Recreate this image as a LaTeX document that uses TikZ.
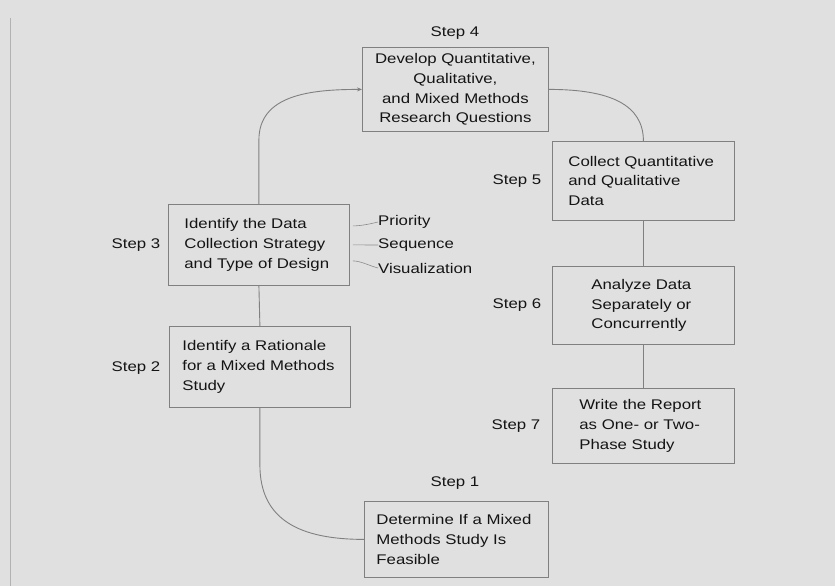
\documentclass[tikz,border=0pt]{standalone}
\usepackage{fontspec}
\setmainfont{Liberation Sans}[FakeStretch=1.2]
\usetikzlibrary{calc,arrows.meta}
\begin{document}
\begin{tikzpicture}[x=1pt,y=-1pt,
  every node/.style={font=\fontsize{14}{19.8}\selectfont, text=black!92},
  stepbox/.style={draw=black!50, line width=0.8pt, anchor=north west,
    inner ysep=0pt, align=left},
  steplabel/.style={inner sep=0pt},
  link/.style={draw=black!50, line width=0.9pt},
  twig/.style={draw=black!45, line width=0.6pt},
  facet/.style={inner sep=0pt, anchor=west}]
\useasboundingbox (0,0) rectangle (835,586);
\fill[black!12] (0,0) rectangle (835,586);
\draw[black!30, line width=0.6pt] (10,18) -- (10,586);

% boxes of the seven steps
\node[stepbox, align=center, minimum width=186pt, minimum height=84pt,
  text width=170pt, inner xsep=8pt] (b4) at (362,47)
  {Develop Quantitative,\\Qualitative,\\and Mixed Methods\\Research Questions};
\node[stepbox, minimum width=182pt, minimum height=79pt,
  text width=150pt, inner xsep=16pt] (b5) at (552,141)
  {Collect Quantitative\\and Qualitative\\Data};
\node[stepbox, minimum width=182pt, minimum height=78pt,
  text width=104pt, inner xsep=39pt] (b6) at (552,266)
  {Analyze Data\\Separately or\\Concurrently};
\node[stepbox, minimum width=182pt, minimum height=75pt,
  text width=128pt, inner xsep=27pt] (b7) at (552,388)
  {Write the Report\\as One- or Two-\\Phase Study};
\node[stepbox, minimum width=181pt, minimum height=81pt,
  text width=149pt, inner xsep=16pt] (b3) at (168,204)
  {Identify the Data\\Collection Strategy\\and Type of Design};
\node[stepbox, minimum width=181pt, minimum height=81pt,
  text width=155pt, inner xsep=13pt] (b2) at (169,326)
  {Identify a Rationale\\for a Mixed Methods\\Study};
\node[stepbox, minimum width=184pt, minimum height=76pt,
  text width=160pt, inner xsep=12pt] (b1) at (364,501)
  {Determine If a Mixed\\Methods Study Is\\Feasible};

% step labels
\node[steplabel] (s4) at (455,33) {Step 4};
\node[steplabel] (s5) at (517,181) {Step 5};
\node[steplabel] (s6) at (517,305) {Step 6};
\node[steplabel] (s7) at (516,426) {Step 7};
\node[steplabel] (s3) at (136,245) {Step 3};
\node[steplabel] (s2) at (136,368) {Step 2};
\node[steplabel] (s1) at (455,483) {Step 1};

% facets of the design step
\node[facet] (pri) at (378,222) {Priority};
\node[facet] (seq) at (378,245) {Sequence};
\node[facet] (vis) at (378,268) {Visualization};
\draw[twig] ($(b3.east)+(3,-19)$) .. controls +(8,0) and +(-8,2) .. (pri.west);
\draw[twig] ($(b3.east)+(3,0)$) -- (seq.west);
\draw[twig] ($(b3.east)+(3,16)$) .. controls +(8,0) and +(-8,-2) .. (vis.west);

% the cycle of steps
\draw[link] (b1.west) .. controls +(-64,0) and +(0,55) .. (b2.south |- 0,465) -- (b2.south);
\draw[link] (b2.north) -- (b3.south);
\draw[link, -{Stealth[length=5pt,width=4pt]}] (b3.north) -- (b3.north |- 0,140)
  .. controls +(0,-45) and +(-52,0) .. (b4.west);
\draw[link] (b4.east) .. controls +(62,0) and +(0,-36) .. (b5.north);
\draw[link] (b5.south) -- (b6.north);
\draw[link] (b6.south) -- (b7.north);
\end{tikzpicture}
\end{document}
